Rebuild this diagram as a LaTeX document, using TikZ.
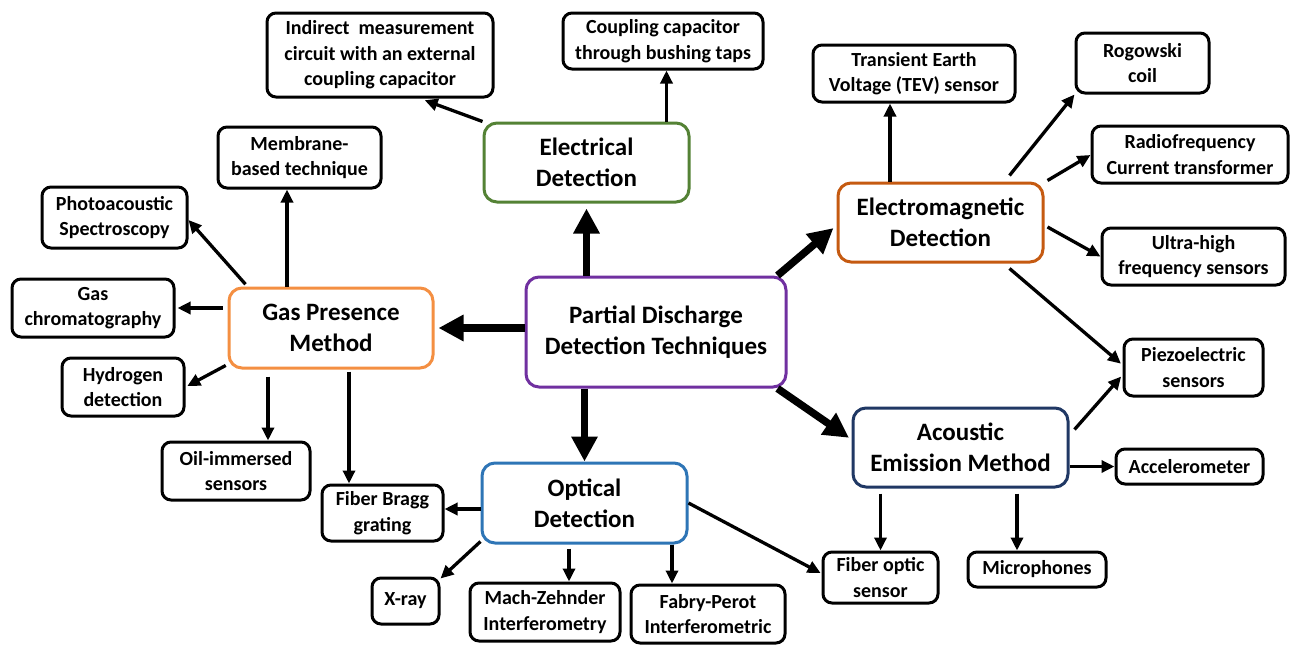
\documentclass[tikz,border=0pt]{standalone}
\usepackage{fontspec}
\setmainfont{Carlito}
\usetikzlibrary{arrows.meta,calc}
\definecolor{cpurple}{RGB}{112,48,160}
\definecolor{cgreen}{RGB}{84,130,53}
\definecolor{corange}{RGB}{244,143,66}
\definecolor{cbrown}{RGB}{197,90,17}
\definecolor{cnavy}{RGB}{32,56,100}
\definecolor{cblue}{RGB}{46,117,182}
\begin{document}
\begin{tikzpicture}[x=1pt,y=-1pt,
  leaf/.style={draw=black, line width=3pt, rounded corners=9pt, fill=white,
    align=center, inner sep=0pt, font=\fontsize{20}{25.5}\selectfont\bfseries},
  hub/.style={line width=3pt, rounded corners=13pt, fill=white,
    align=center, inner sep=0pt, font=\fontsize{25}{31}\selectfont\bfseries},
  thin/.style={line width=3.3pt, -{Triangle[length=13pt,width=12pt]}},
  thick/.style={line width=7.5pt, -{Triangle[length=25pt,width=25pt]}}]

\fill[white] (0,0) rectangle (1293,645);
\useasboundingbox (0,0) rectangle (1293,645);

% hub boxes
\node[hub, draw=cpurple, minimum width=260pt, minimum height=110pt] (pd) at (656,332) {Partial Discharge\\Detection Techniques};
\node[hub, draw=cgreen, minimum width=205pt, minimum height=79pt] (elec) at (586.5,162.5) {Electrical\\Detection};
\node[hub, draw=corange, minimum width=204pt, minimum height=80pt] (gas) at (331,328) {Gas Presence\\Method};
\node[hub, draw=cbrown, minimum width=205pt, minimum height=79pt] (em) at (940.5,222.5) {Electromagnetic\\Detection};
\node[hub, draw=cnavy, minimum width=215pt, minimum height=79pt] (ae) at (960.5,447.5) {Acoustic\\Emission Method};
\node[hub, draw=cblue, minimum width=205pt, minimum height=80pt] (opt) at (584.5,503) {Optical\\Detection};

% leaf boxes
\node[leaf, minimum width=226pt, minimum height=84pt] (ind) at (380,55) {Indirect\ \ measurement\\circuit with an external\\coupling capacitor};
\node[leaf, minimum width=200pt, minimum height=56pt] (cpl) at (663,41) {Coupling capacitor\\through bushing taps};
\node[leaf, minimum width=163pt, minimum height=61pt] (mem) at (299.5,157.5) {Membrane-\\based technique};
\node[leaf, minimum width=145pt, minimum height=61pt] (pas) at (114.5,217.5) {Photoacoustic\\Spectroscopy};
\node[leaf, minimum width=162pt, minimum height=58pt] (gc) at (93,308) {Gas\\chromatography};
\node[leaf, minimum width=122pt, minimum height=58pt] (hyd) at (123,387) {Hydrogen\\detection};
\node[leaf, minimum width=148pt, minimum height=58pt] (oil) at (236,471) {Oil-immersed\\sensors};
\node[leaf, minimum width=121pt, minimum height=56pt] (fbg) at (382.5,513) {Fiber Bragg\\grating};
\node[leaf, minimum width=67pt, minimum height=46pt] (xr) at (405.5,601) {X-ray};
\node[leaf, minimum width=150pt, minimum height=58pt] (mz) at (545,612) {Mach-Zehnder\\Interferometry};
\node[leaf, minimum width=154pt, minimum height=58pt] (fp) at (708,614) {Fabry-Perot\\Interferometric};
\node[leaf, minimum width=115pt, minimum height=51pt] (fos) at (880.5,577.5) {Fiber optic\\sensor};
\node[leaf, minimum width=138pt, minimum height=35pt] (mic) at (1037,569.5) {Microphones};
\node[leaf, minimum width=147pt, minimum height=35pt] (acc) at (1189.5,466.5) {Accelerometer};
\node[leaf, minimum width=139pt, minimum height=57pt] (pz) at (1193.5,367.5) {Piezoelectric\\sensors};
\node[leaf, minimum width=183pt, minimum height=57pt] (uhf) at (1193.5,256.5) {Ultra-high\\frequency sensors};
\node[leaf, minimum width=196pt, minimum height=57pt] (rfct) at (1190,154.5) {Radiofrequency\\Current transformer};
\node[leaf, minimum width=133pt, minimum height=60pt] (rog) at (1142.5,63) {Rogowski\\coil};
\node[leaf, minimum width=202pt, minimum height=57pt] (tev) at (914,73.5) {Transient Earth\\Voltage (TEV) sensor};

% main branches
\draw[thick, shorten >=5pt] (pd.north -| elec.south) -- (elec.south);
\draw[thick, shorten >=4pt] ([yshift=4pt]pd.west) -- ([yshift=4pt]pd.west -| gas.east);
\draw[thick] (pd.south -| opt.north) -- (opt.north);
\draw[thick, shorten >=4pt] ([xshift=-10pt]pd.north east) -- ([yshift=-3pt]em.west);
\draw[thick, shorten >=3pt] ([xshift=-10pt]pd.south east) -- ([yshift=8pt]ae.west);

% electrical detection
\draw[thin, shorten >=5pt] (elec.north west) -- ([xshift=40pt]ind.south);
\draw[thin] ([xshift=80pt]elec.north) -- ([xshift=80pt]elec.north |- cpl.south);

% gas presence method
\draw[thin] ([xshift=-44pt]gas.north) -- ([xshift=-44pt]gas.north |- mem.south);
\draw[thin, shorten <=3pt] ([xshift=20pt]gas.north west) -- ([yshift=-2.5pt]pas.east);
\draw[thin, shorten <=5pt, shorten >=2pt] ([yshift=20pt]gas.west) -- ([yshift=20pt]gas.west -| gc.east);
\draw[thin, shorten <=2pt, shorten >=2pt] ([yshift=5pt]gas.south west) -- (hyd.east);
\draw[thin, shorten <=7pt] ([xshift=-63pt]gas.south) -- ([xshift=-63pt]gas.south |- oil.north);
\draw[thin, shorten <=2pt] ([xshift=18pt]gas.south) -- ([xshift=18pt]gas.south |- fbg.north);

% optical detection
\draw[thin] ([yshift=-6pt]opt.west) -- ([yshift=-6pt]opt.west -| fbg.east);
\draw[thin] ([yshift=3pt]opt.south west) -- ([yshift=-2pt]xr.north east);
\draw[thin, shorten <=4pt] ([xshift=-15.5pt]opt.south) -- ([xshift=-15.5pt]opt.south |- mz.north);
\draw[thin] ([xshift=87.5pt]opt.south) -- ([xshift=87.5pt]opt.south |- fp.north);
\draw[thin, shorten >=1pt] (opt.east) -- ([yshift=4pt]fos.west);

% electromagnetic detection
\draw[thin] ([xshift=-50.5pt]em.north) -- ([xshift=-50.5pt]em.north |- tev.south);
\draw[thin] ([xshift=-35pt,yshift=6pt]em.north east) -- (rog.south west);
\draw[thin] ([xshift=3pt,yshift=1pt]em.north east) -- ([yshift=-0.5pt]rfct.west);
\draw[thin] ([xshift=3pt,yshift=-4.5pt]em.east) -- (uhf.west);
\draw[thin, shorten >=2pt] ([xshift=-35pt,yshift=-5pt]em.south east) -- ([yshift=2.5pt]pz.west);

% acoustic emission method
\draw[thin, shorten >=2pt] ([xshift=5pt,yshift=-23pt]ae.north east) -- ([yshift=-7.5pt]pz.west);
\draw[thin] (ae.east |- acc.west) -- (acc.west);
\draw[thin, shorten <=5pt] (ae.south -| fos.north) -- (fos.north);
\draw[thin, shorten <=5pt] ([xshift=56.5pt]ae.south) -- ([xshift=56.5pt]ae.south |- mic.north);
\end{tikzpicture}
\end{document}
